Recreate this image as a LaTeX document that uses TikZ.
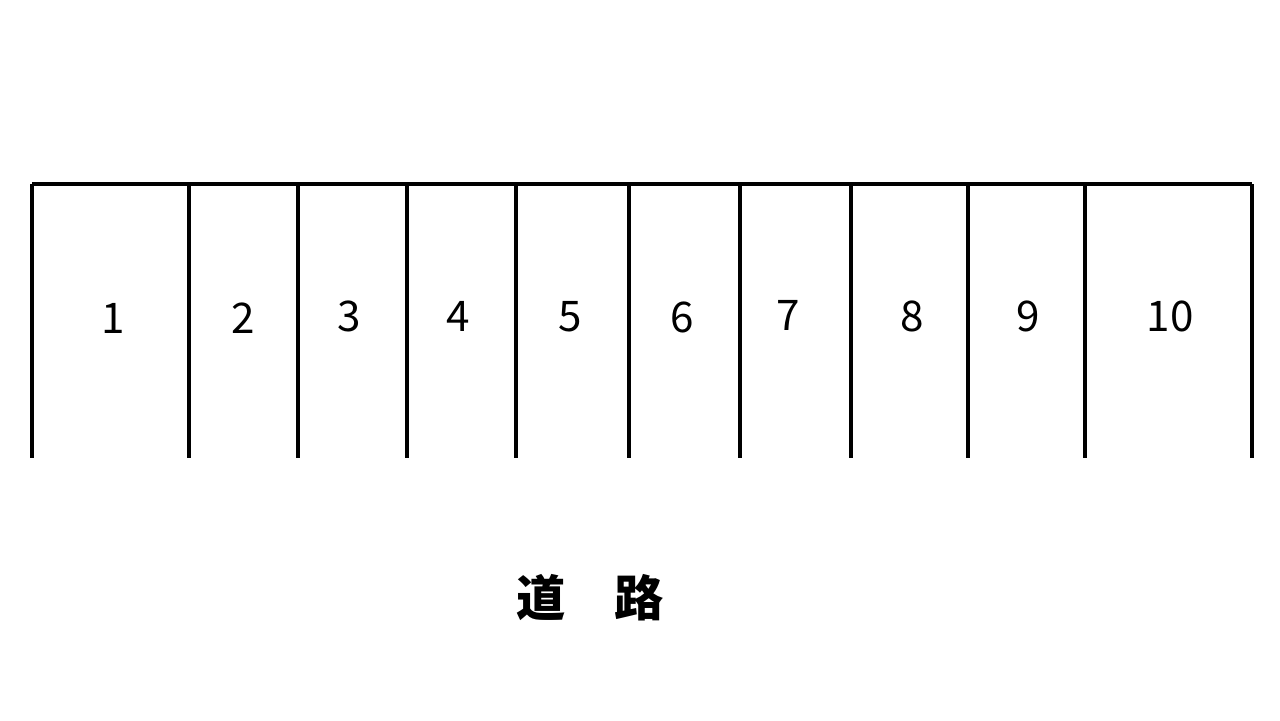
\documentclass[tikz,border=0pt]{standalone}
\usepackage{fontspec}
\setmainfont{Noto Sans CJK JP}
\usepackage{tikz}

\begin{document}
\begin{tikzpicture}[x=0.01cm,y=-0.01cm]
  \tikzstyle{wall}=[line width=0.9pt,black]
  \tikzstyle{every node}=[inner sep=0pt,font=\fontsize{12pt}{14pt}\selectfont]
  \tikzstyle{road}=[font=\fontsize{14pt}{16pt}\selectfont\bfseries]
  \useasboundingbox (0,0) rectangle (1280,720);
  \draw[wall] (32,184) -- (1252,184);
  \foreach \x in {32,189,298,407,516,629,740,851,968,1085,1252}
    \draw[wall] (\x,184) -- (\x,458);
  \node (n1) at (113,318) {1};
  \node (n2) at (243,318) {2};
  \node (n3) at (349,316) {3};
  \node (n4) at (458,316) {4};
  \node (n5) at (570,317) {5};
  \node (n6) at (682,317) {6};
  \node (n7) at (788,315) {7};
  \node (n8) at (912,316) {8};
  \node (n9) at (1028,316) {9};
  \node (n10) at (1170,316) {10};
  \node[road] (road) at (590,598) {道　路};
\end{tikzpicture}
\end{document}
